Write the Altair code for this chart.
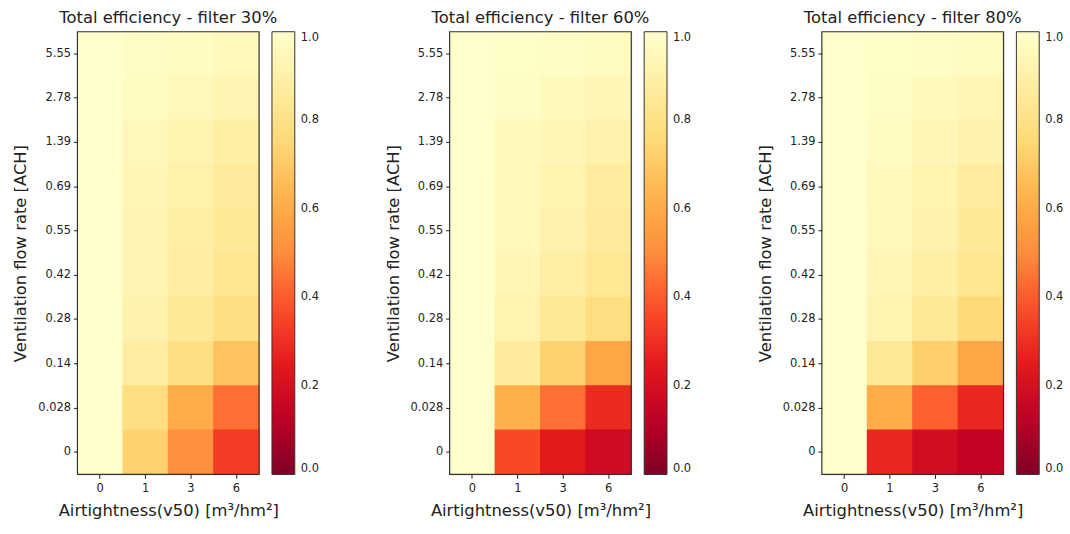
import altair as alt
import pandas as pd

flow_rates = ["5.55", "2.78", "1.39", "0.69", "0.55", "0.42", "0.28", "0.14", "0.028", "0"]
airtightness = ["0", "1", "3", "6"]

eff_30 = [
    [1.0, 0.98, 0.97, 0.96],
    [1.0, 0.97, 0.95, 0.93],
    [1.0, 0.95, 0.92, 0.89],
    [1.0, 0.94, 0.90, 0.86],
    [1.0, 0.93, 0.89, 0.85],
    [1.0, 0.93, 0.88, 0.83],
    [1.0, 0.91, 0.85, 0.79],
    [1.0, 0.88, 0.79, 0.68],
    [1.0, 0.78, 0.60, 0.44],
    [1.0, 0.73, 0.51, 0.33],
]
eff_60 = [
    [1.0, 0.99, 0.98, 0.97],
    [1.0, 0.98, 0.96, 0.94],
    [1.0, 0.96, 0.94, 0.91],
    [1.0, 0.95, 0.92, 0.87],
    [1.0, 0.95, 0.91, 0.86],
    [1.0, 0.94, 0.89, 0.84],
    [1.0, 0.92, 0.85, 0.78],
    [1.0, 0.86, 0.73, 0.58],
    [1.0, 0.62, 0.44, 0.29],
    [1.0, 0.36, 0.25, 0.18],
]
eff_80 = [
    [1.0, 0.99, 0.98, 0.97],
    [1.0, 0.98, 0.96, 0.94],
    [1.0, 0.97, 0.94, 0.91],
    [1.0, 0.96, 0.92, 0.87],
    [1.0, 0.95, 0.91, 0.85],
    [1.0, 0.94, 0.89, 0.83],
    [1.0, 0.92, 0.85, 0.76],
    [1.0, 0.85, 0.72, 0.58],
    [1.0, 0.60, 0.41, 0.28],
    [1.0, 0.28, 0.19, 0.14],
]
titles = ["Total efficiency - filter 30%", "Total efficiency - filter 60%", "Total efficiency - filter 80%"]
matrices = [eff_30, eff_60, eff_80]

# YlOrRd_r colormap stops
cmap_stops = [0, 0.125, 0.25, 0.375, 0.5, 0.625, 0.75, 0.875, 1.0]
cmap_colors = ["#800026", "#bd0026", "#e31a1c", "#fc4e2a", "#fd8d3c",
               "#feb24c", "#fed976", "#ffeda0", "#ffffcc"]

FONT = "DejaVu Sans"
TXT = "#222222"
W, H = 183, 446


def panel(title, mat):
    rows = []
    for i, fr in enumerate(flow_rates):
        for j, at in enumerate(airtightness):
            rows.append({"flow": fr, "air": at, "eff": mat[i][j]})
    df = pd.DataFrame(rows)
    scale = alt.Scale(domain=cmap_stops, range=cmap_colors, interpolate="rgb")
    heat = (
        alt.Chart(df)
        .mark_rect(strokeWidth=0,
                   width=alt.RelativeBandSize(1.02),
                   height=alt.RelativeBandSize(1.03))
        .encode(
            x=alt.X("air:O", sort=airtightness,
                    scale=alt.Scale(paddingInner=0, paddingOuter=0),
                    axis=alt.Axis(title="Airtightness(v50) [m³/hm²]", labelAngle=0,
                                  labelFontSize=11.5, titleFontSize=16.5, titleFontWeight="normal",
                                  labelFont=FONT, titleFont=FONT, labelColor=TXT, titleColor=TXT,
                                  domain=False, tickColor=TXT, tickSize=4, labelPadding=4,
                                  titlePadding=9)),
            y=alt.Y("flow:O", sort=flow_rates,
                    scale=alt.Scale(paddingInner=0, paddingOuter=0),
                    axis=alt.Axis(title="Ventilation flow rate [ACH]",
                                  labelFontSize=11.5, titleFontSize=16.5, titleFontWeight="normal",
                                  labelFont=FONT, titleFont=FONT, labelColor=TXT, titleColor=TXT,
                                  domain=False, tickColor=TXT, tickSize=4, labelPadding=3,
                                  titlePadding=9)),
            color=alt.Color("eff:Q", scale=scale,
                            legend=alt.Legend(title=None, type="gradient", direction="vertical",
                                              gradientLength=H, gradientThickness=23,
                                              values=[0, 0.2, 0.4, 0.6, 0.8, 1.0], format=".1f",
                                              labelFontSize=11.5, labelFont=FONT, labelColor=TXT,
                                              labelOverlap=False, labelBaseline="middle",
                                              gradientStrokeColor="#333333", gradientStrokeWidth=1,
                                              offset=13, padding=0, labelOffset=6)),
        )
    )
    frame = (
        alt.Chart(pd.DataFrame({"k": [0]}))
        .mark_rect(fill=None, stroke="#333333", strokeWidth=1.2)
        .encode(x=alt.value(0), x2=alt.value(W), y=alt.value(0), y2=alt.value(H))
    )
    return alt.layer(heat, frame).properties(
        width=W, height=H,
        title=alt.TitleParams(title, fontSize=16.5, font=FONT, color=TXT,
                              fontWeight="normal", offset=5),
    )


chart = (
    alt.hconcat(*[panel(t, m) for t, m in zip(titles, matrices)], spacing=64)
    .resolve_scale(color="independent")
    .configure_view(stroke=None, clip=True)
    .configure(padding={"left": 12, "top": 7, "right": 5, "bottom": 5})
    .properties(background="white")
)

chart.save("out.html", embed_options={"renderer": "svg", "actions": False})
